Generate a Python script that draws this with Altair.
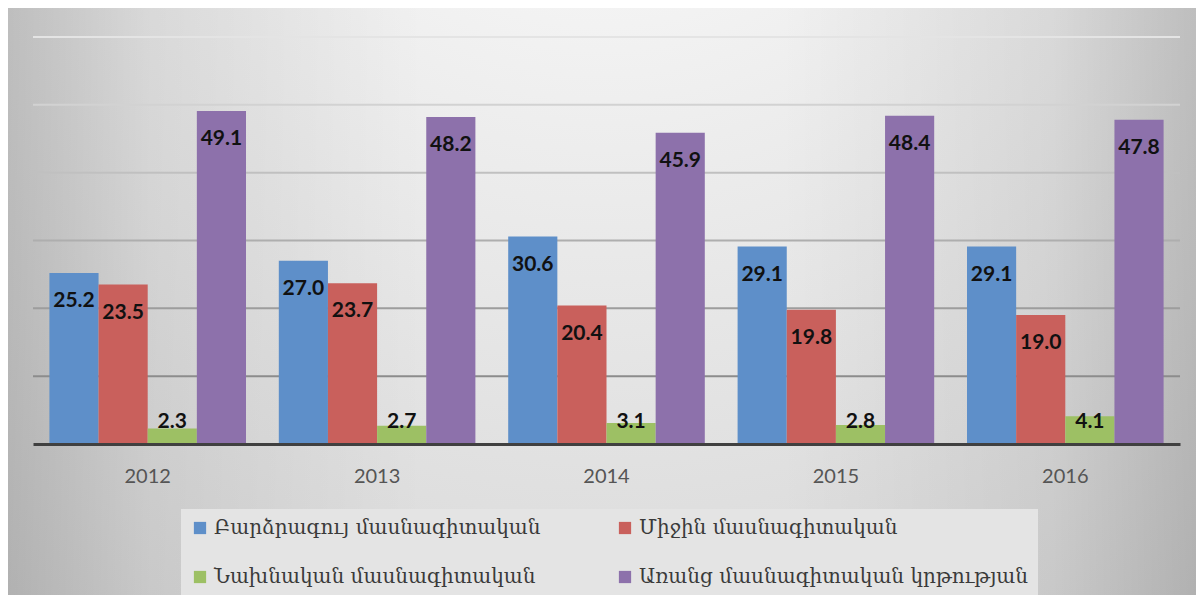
import altair as alt
import pandas as pd

years = ["2012", "2013", "2014", "2015", "2016"]
series = [
    "Բարձրագույ մասնագիտական",
    "Միջին մասնագիտական",
    "Նախնական մասնագիտական",
    "Առանց մասնագիտական կրթության",
]
higher = [25.2, 27.0, 30.6, 29.1, 29.1]
middle = [23.5, 23.7, 20.4, 19.8, 19.0]
primary = [2.3, 2.7, 3.1, 2.8, 4.1]
none_ = [49.1, 48.2, 45.9, 48.4, 47.8]
grid_values = [10, 20, 30, 40, 50, 60]

colors = ["#5E8FC9", "#C9605C", "#9DC064", "#8D71AB"]

rows = []
for s, vals in zip(series, [higher, middle, primary, none_]):
    for y, v in zip(years, vals):
        rows.append({"year": y, "series": s, "value": v})
df = pd.DataFrame(rows)

# legend is filled column by column: reorder so rows read blue/red, green/purple
legend_order = [series[0], series[2], series[1], series[3]]
legend_colors = [colors[0], colors[2], colors[1], colors[3]]

W, H = 1147, 407
PL, PT, PR, PB = 25, 29, 16, 151

yscale = alt.Scale(domain=[0, 60], nice=False, zero=True)
xscale = alt.Scale(paddingInner=0.143, paddingOuter=0.0715)

bg = alt.Chart(pd.DataFrame({"k": [0]})).mark_rect(
    fill=alt.RadialGradient(
        gradient="radial",
        x1=0.5, y1=0.0, r1=0.0,
        x2=0.5, y2=0.0, r2=1.0,
        stops=[
            alt.GradientStop(offset=0.0, color="#ffffff"),
            alt.GradientStop(offset=0.35, color="#eeeeee"),
            alt.GradientStop(offset=0.7, color="#dedede"),
            alt.GradientStop(offset=1.0, color="#d0d0d0"),
        ],
    )
).encode(
    x=alt.value(-PL), x2=alt.value(W + PR),
    y=alt.value(-PT), y2=alt.value(H + PB),
)

vignette = alt.Chart(pd.DataFrame({"k": [0]})).mark_rect(
    fill=alt.LinearGradient(
        gradient="linear",
        x1=0, y1=0, x2=1, y2=0,
        stops=[
            alt.GradientStop(offset=0.0, color="rgba(0,0,0,0.17)"),
            alt.GradientStop(offset=0.12, color="rgba(0,0,0,0.07)"),
            alt.GradientStop(offset=0.35, color="rgba(0,0,0,0.0)"),
            alt.GradientStop(offset=0.65, color="rgba(0,0,0,0.0)"),
            alt.GradientStop(offset=0.88, color="rgba(0,0,0,0.07)"),
            alt.GradientStop(offset=1.0, color="rgba(0,0,0,0.17)"),
        ],
    )
).encode(
    x=alt.value(-PL), x2=alt.value(W + PR),
    y=alt.value(-PT), y2=alt.value(H + PB),
)

grid = alt.Chart(pd.DataFrame({"v": grid_values})).mark_rule(strokeWidth=2).encode(
    y=alt.Y("v:Q", scale=yscale, axis=None),
    stroke=alt.Stroke("v:Q", scale=alt.Scale(domain=[10, 60], range=["#8c8c8c", "#e4e4e4"]), legend=None),
)

base = alt.Chart(df).encode(
    x=alt.X(
        "year:N", scale=xscale, sort=years,
        axis=alt.Axis(
            title=None, labelAngle=0, ticks=False, grid=False,
            domainColor="#404040", domainWidth=3,
            labelFontSize=20, labelColor="#555555", labelFont="Lato",
            labelPadding=22, zindex=1,
        ),
    ),
    xOffset=alt.XOffset("series:N", sort=series, scale=alt.Scale(paddingInner=0, paddingOuter=0)),
)

bars = base.mark_bar().encode(
    y=alt.Y("value:Q", scale=yscale, axis=None),
    color=alt.Color(
        "series:N", sort=legend_order,
        scale=alt.Scale(domain=legend_order, range=legend_colors),
        legend=alt.Legend(
            orient="none", legendX=148, legendY=472, columns=2, title=None,
            symbolType="square", symbolSize=150, symbolStrokeWidth=0, labelOffset=4,
            labelFont="DejaVu Serif", labelFontSize=20, labelColor="#3a3a3a",
            fillColor="#e4e4e4", padding=9, rowPadding=29, columnPadding=74,
            labelLimit=0, zindex=1,
        ),
    ),
)

labels = base.transform_calculate(
    labelY="max(datum.value - 4.15, 3.25)"
).mark_text(
    font="Lato", fontWeight="bold", fontSize=21, color="#111111", baseline="middle"
).encode(
    y=alt.Y("labelY:Q", scale=yscale, axis=None),
    text=alt.Text("value:Q", format=".1f"),
)

chart = alt.layer(bg, vignette, grid, bars, labels).properties(
    width=W, height=H,
    autosize=alt.AutoSizeParams(type="none"),
    padding={"left": PL, "top": PT, "right": PR, "bottom": PB},
).configure_view(stroke=None)

chart.save("out.html", embed_options={"renderer": "svg", "actions": False})
